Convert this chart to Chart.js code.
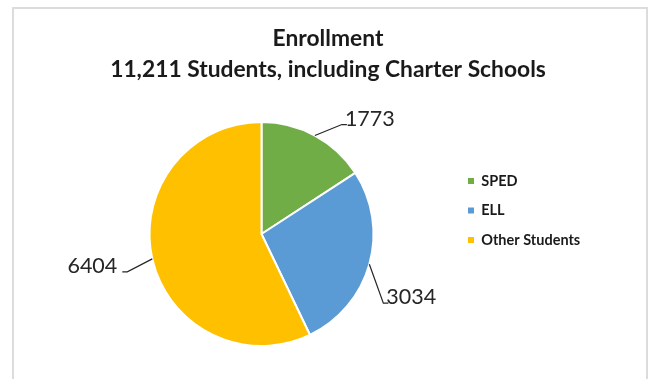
<!DOCTYPE html>
<html>
<head>
<meta charset="utf-8">
<script src="https://cdn.jsdelivr.net/npm/chart.js@4.4.1/dist/chart.umd.min.js"></script>
<style>
  html, body { margin: 0; padding: 0; background: #fff; }
  #wrap { position: relative; width: 654px; height: 379px; overflow: hidden; }
  #frame { position: absolute; left: 12px; top: 7px; width: 636px; height: 400px; border: 2px solid #dcdcdc; box-sizing: border-box; }
  canvas { position: absolute; left: 0; top: 0; }
</style>
</head>
<body>
<div id="wrap">
  <div id="frame"></div>
  <canvas id="enrollChart" width="654" height="379"></canvas>
</div>
<script>
const categories = ['SPED', 'ELL', 'Other Students'];
const students = [1773, 3034, 6404];
const titleLines = ['Enrollment', '11,211 Students, including Charter Schools'];
const sliceColors = ['#70AD47', '#5B9BD5', '#FFC000'];
// where each leader line bends, measured from the slice's outer edge
const leaderBend = [[27, -11], [14, 39], [-25, 13]];

// Value labels with leader lines, like the Excel "best fit" callouts
const leaderLabels = {
    id: 'leaderLabels',
    afterDatasetsDraw(chart) {
        const ctx = chart.ctx;
        const meta = chart.getDatasetMeta(0);
        const values = chart.data.datasets[0].data;
        ctx.save();
        ctx.font = '21.5px Lato';
        ctx.strokeStyle = '#262626';
        ctx.fillStyle = '#262626';
        ctx.lineWidth = 1.2;
        meta.data.forEach(function(arc, i) {
            const p = arc.getProps(['x', 'y', 'startAngle', 'endAngle', 'outerRadius'], true);
            const mid = (p.startAngle + p.endAngle) / 2;
            const ex = p.x + Math.cos(mid) * p.outerRadius;
            const ey = p.y + Math.sin(mid) * p.outerRadius;
            const bx = ex + leaderBend[i][0];
            const by = ey + leaderBend[i][1];
            const dir = Math.cos(mid) >= 0 ? 1 : -1;
            const tx = bx + dir * 5;
            ctx.beginPath();
            ctx.moveTo(ex, ey);
            ctx.lineTo(bx, by);
            ctx.lineTo(tx, by);
            ctx.stroke();
            ctx.textAlign = dir > 0 ? 'left' : 'right';
            ctx.textBaseline = 'alphabetic';
            const gap = dir > 0 ? -2 : 5;
            ctx.fillText(String(values[i]), tx + dir * gap, by + 1);
        });
        ctx.restore();
    }
};

new Chart(document.getElementById('enrollChart'), {
    type: 'pie',
    data: {
        labels: categories,
        datasets: [{
            data: students,
            backgroundColor: sliceColors,
            borderColor: '#ffffff',
            borderWidth: 2
        }]
    },
    options: {
        responsive: false,
        animation: false,
        devicePixelRatio: 1,
        layout: {
            padding: { top: 23, bottom: 32, left: 70, right: 68 }
        },
        plugins: {
            title: {
                display: true,
                text: titleLines,
                color: '#1a1a1a',
                font: { family: 'Lato', size: 22.8, weight: 'bold', lineHeight: '31px' },
                padding: { top: 0, bottom: 36 }
            },
            legend: {
                position: 'right',
                maxWidth: 133,
                // empty title only pushes the items down a bit
                title: { display: true, text: '', padding: 0, font: { size: 12, lineHeight: '51px' } },
                labels: {
                    boxWidth: 6,
                    boxHeight: 6,
                    padding: 15,
                    color: '#1a1a1a',
                    font: { family: 'Lato', size: 14.5, weight: 'bold' },
                    generateLabels: function(chart) {
                        const items = Chart.overrides.doughnut.plugins.legend.labels.generateLabels(chart);
                        items.forEach(function(item) {
                            item.lineWidth = 0;
                            item.strokeStyle = 'rgba(0,0,0,0)';
                        });
                        return items;
                    }
                }
            },
            tooltip: { enabled: false }
        }
    },
    plugins: [leaderLabels]
});
</script>
</body>
</html>
